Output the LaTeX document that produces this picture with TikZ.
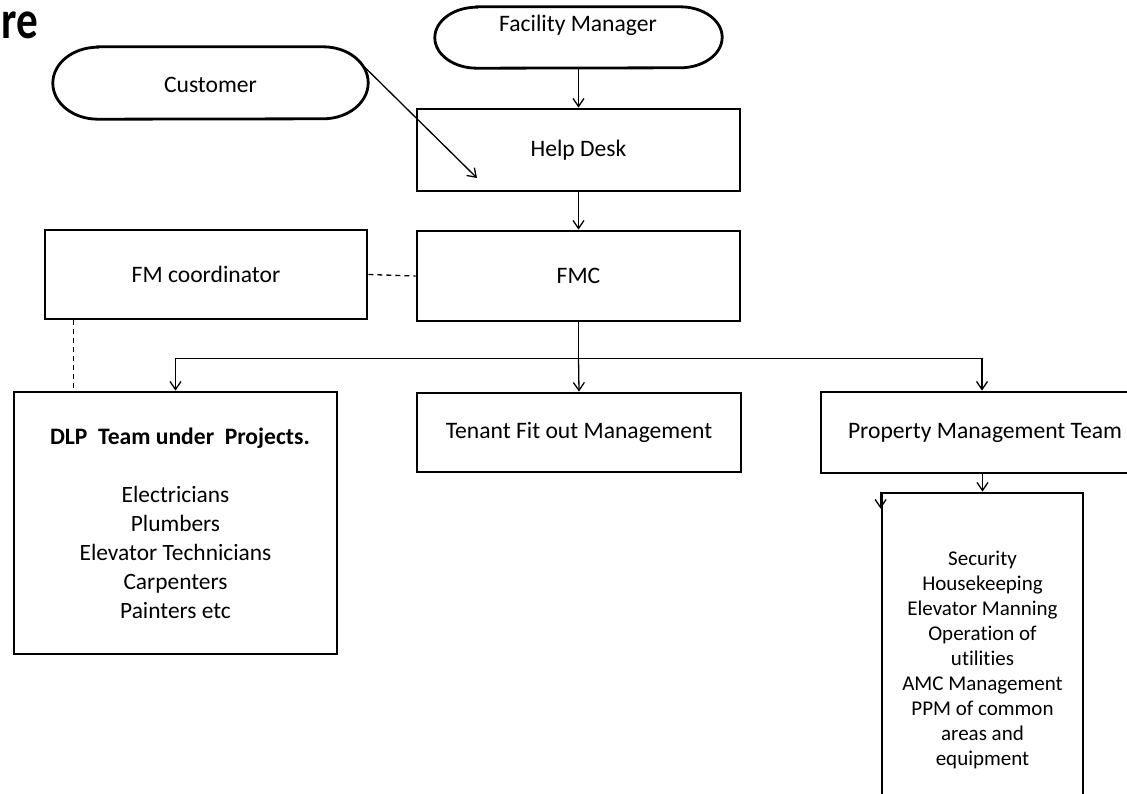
\documentclass[tikz,border=0pt]{standalone}
\usepackage{fontspec}
\setmainfont{Carlito}[Ligatures=NoCommon]
\usetikzlibrary{arrows.meta,calc}

\tikzset{
  boxline/.style={line width=2.8pt, line join=miter},
  box/.style={boxline, draw=black, rectangle, inner sep=0pt, font=\fontsize{23.6}{28}\selectfont},
  pilltext/.style={font=\fontsize{23.6}{28}\selectfont, inner sep=0pt},
  conn/.style={line width=1.3pt, -{Straight Barb[length=8pt,width=11pt,line width=1.3pt]}},
  link/.style={line width=1.3pt},
  dashlink/.style={line width=1.3pt, dash pattern=on 5pt off 4pt},
}

\begin{document}
\begin{tikzpicture}[x=1pt, y=-1pt]
\clip (0,0) rectangle (1127,794);
\fill[white] (0,0) rectangle (1127,794);

% title fragment
\node[anchor=base west, inner sep=0pt, font=\bfseries\fontsize{54}{54}\selectfont, xscale=0.8] (title) at (1,39) {re};

% pill-shaped start nodes
\node[minimum width=287pt, minimum height=61pt, inner sep=0pt] (fm) at (578.5,37.5) {};
\draw[boxline] ([xshift=42pt]fm.north west) -- ([xshift=-42pt]fm.north east)
  arc[start angle=90, end angle=-90, x radius=42pt, y radius=30.5pt]
  -- ([xshift=42pt]fm.south west)
  arc[start angle=270, end angle=90, x radius=42pt, y radius=30.5pt] -- cycle;
\node[pilltext] (fmtext) at (578,25) {Facility Manager};

\node[minimum width=315pt, minimum height=72pt, inner sep=0pt] (cust) at (210.5,83) {};
\draw[boxline] ([xshift=45pt]cust.north west) -- ([xshift=-45pt]cust.north east)
  arc[start angle=90, end angle=-90, x radius=45pt, y radius=36pt]
  -- ([xshift=45pt]cust.south west)
  arc[start angle=270, end angle=90, x radius=45pt, y radius=36pt] -- cycle;
\node[pilltext] (custtext) at (210.5,85) {Customer};

% main boxes
\node[box, minimum width=323pt, minimum height=82pt] (hd) at (578.5,150) {Help Desk};
\node[box, minimum width=323pt, minimum height=90pt] (fmc) at (578.5,276) {FMC};
\node[box, minimum width=322pt, minimum height=89pt] (fmco) at (206,274.5) {FM coordinator};
\node[box, minimum width=323pt, minimum height=262pt] (dlp) at (175.5,523) {};
\node[box, minimum width=324pt, minimum height=79pt] (tfm) at (579,432.5) {Tenant Fit out Management};
\node[box, minimum width=328pt, minimum height=81pt] (pmt) at (985,432.5) {Property Management Team};
\node[box, minimum width=201pt, minimum height=320pt] (svc) at (982.5,653) {};

% texts inside the large boxes
\node[anchor=base, inner sep=0pt, font=\bfseries\fontsize{23.6}{28}\selectfont] (dlptitle) at (180,444) {DLP\ \ Team under\ \ Projects.};
\node[pilltext, align=center, font=\fontsize{23.4}{29}\selectfont] (dlplist) at (175.5,552)
  {Electricians\\Plumbers\\Elevator Technicians\\Carpenters\\Painters etc};
\node[pilltext, align=center, font=\fontsize{21}{25.1}\selectfont] (svclist) at (982.5,660)
  {Security\\Housekeeping\\Elevator Manning\\Operation of\\utilities\\AMC Management\\PPM of common\\areas and\\equipment};

% connectors
\draw[conn] (fm.south) -- (hd.north);
\coordinate (custend) at (477,178);
\draw[conn] ([xshift=-11pt,yshift=-13pt]cust.north east) -- (custend);
\draw[conn] (hd.south) -- (fmc.north);
\draw[dashlink] (fmco.east) -- (fmc.west);
\draw[dashlink] ([xshift=30pt]fmco.south west) -- ([xshift=30pt]fmco.south west |- dlp.north);

\path (fmc.south) ++(0,36) coordinate (bus);
\draw[link] (fmc.south) -- (bus);
\draw[conn] (bus) -| (dlp.north);
\draw[conn] (bus) -- (tfm.north);
\draw[conn] (bus) -| ([xshift=-3pt]pmt.north);
\draw[conn] (pmt.south -| svc.north) -- (svc.north);
\coordinate (svcmark) at ([yshift=-17pt]svc.north west);
\draw[conn] (svc.north west) -- (svcmark);
\end{tikzpicture}
\end{document}
